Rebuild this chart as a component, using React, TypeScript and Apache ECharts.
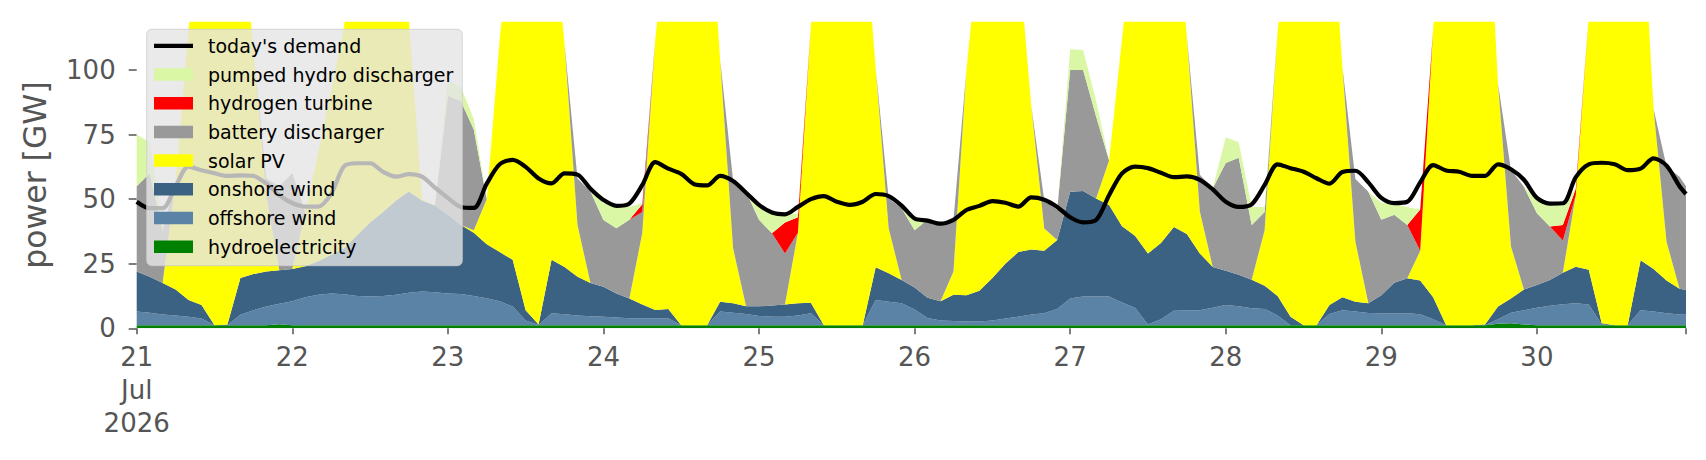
import React, { useEffect, useRef } from "react";
import * as echarts from "echarts";

// hours since 21 Jul 2026 00:00
const hours = [
  0, 2, 4, 6, 8, 10, 12, 14, 16, 18, 20, 22, 24, 26, 28, 30, 32, 34, 36, 38,
  40, 42, 44, 46, 48, 50, 52, 54, 56, 58, 60, 62, 64, 66, 68, 70, 72, 74, 76, 78,
  80, 82, 84, 86, 88, 90, 92, 94, 96, 98, 100, 102, 104, 106, 108, 110, 112, 114, 116, 118,
  120, 122, 124, 126, 128, 130, 132, 134, 136, 138, 140, 142, 144, 146, 148, 150, 152, 154, 156, 158,
  160, 162, 164, 166, 168, 170, 172, 174, 176, 178, 180, 182, 184, 186, 188, 190, 192, 194, 196, 198,
  200, 202, 204, 206, 208, 210, 212, 214, 216, 218, 220, 222, 224, 226, 228, 230, 232, 234, 236, 238,
  239,
];

const hydro = [
  1.2, 1.2, 1.2, 1.2, 1.2, 1.2, 1.2, 1.2, 1.2, 1.2, 1.2, 1.6, 1.2, 1.2, 1.2, 1.2, 1.2, 1.2, 1.2, 1.2,
  1.2, 1.2, 1.2, 1.2, 1.2, 1.2, 1.2, 1.2, 1.2, 1.2, 1.2, 1.2, 1.2, 1.2, 1.2, 1.2, 1.2, 1.2, 1.2, 1.2,
  1.2, 1.2, 1.2, 1.2, 1.2, 1.2, 1.2, 1.2, 1.2, 1.2, 1.2, 1.2, 1.2, 1.2, 1.2, 1.2, 1.2, 1.2, 1.2, 1.2,
  1.2, 1.2, 1.2, 1.2, 1.2, 1.2, 1.2, 1.2, 1.2, 1.2, 1.2, 1.2, 1.2, 1.2, 1.2, 1.2, 1.2, 1.2, 1.2, 1.2,
  1.2, 1.2, 1.2, 1.2, 1.2, 1.2, 1.2, 1.2, 1.2, 1.2, 1.2, 1.2, 1.2, 1.2, 1.2, 1.2, 1.2, 1.2, 1.2, 1.2,
  1.2, 1.2, 1.2, 1.2, 1.2, 1.8, 2.0, 1.5, 1.2, 1.2, 1.2, 1.2, 1.2, 1.2, 1.2, 1.2, 1.2, 1.2, 1.2, 1.2,
  1.2,
];

const offshoreWind = [
  5.3, 4.8, 4.1, 3.8, 3.3, 2.6, 0, 0.1, 4, 5.8, 7.2, 7.9, 9.3, 10.8, 11.8, 12.3, 12, 11.3, 11.1, 11.3,
  11.8, 12.6, 13, 12.8, 12.3, 12.1, 11.3, 10.4, 9.3, 7.2, 1.8, 0.1, 4.6, 4.2, 3.8, 3.5, 3.3, 3, 2.7, 2.7,
  2.7, 2.7, 0, 0, 0, 5.3, 4.8, 4.3, 3.6, 3.3, 3.3, 3.8, 4.6, 0, 0, 0, 0, 9.8, 9.1, 8.5,
  6.1, 2.8, 1.8, 1.6, 1.4, 1.4, 1.8, 2.6, 3.3, 4.1, 4.6, 6.3, 10.3, 11.1, 11.1, 11.1, 8.8, 6.8, 0.3, 2.3,
  5.6, 5.7, 5.8, 6.8, 7.8, 7.3, 6.6, 6.3, 3.8, 0, 0, 0, 4.3, 5.8, 5.3, 4.7, 4.6, 4.6, 4.6, 4.2,
  2.3, 0, 0, 0, 0, 1.7, 4, 5.5, 6.8, 7.5, 8.1, 8.5, 8, 0.3, 0, 0, 5.8, 5.3, 4.6, 4.1,
  4,
];

const onshoreWind = [
  15.5, 14, 12.2, 10, 6.5, 5.2, 0, 0.2, 14.3, 14, 13.6, 13, 12.5, 12, 13, 15, 17.8, 23.5, 28.7, 32.5,
  36.5, 39.2, 35.3, 33.5, 30.5, 26.7, 24.5, 20.9, 19, 18.1, 4, 0.2, 20.7, 18.3, 15, 12.8, 11.6, 9.3, 7.6, 5.3,
  3.2, 3.6, 0, 0, 0, 3.8, 3.7, 3, 3.7, 4.3, 4.7, 4.7, 4.1, 0, 0, 0, 0, 12.6, 11, 9,
  8.5, 7.8, 7.5, 10.2, 10.2, 11.9, 16.5, 21.2, 25, 25.2, 24.2, 26.7, 41.4, 40.9, 38, 35.4, 29.5, 27.8, 27.5, 29.5,
  32.4, 29.6, 22, 15.7, 13.3, 12.2, 11, 9, 7.5, 3.3, 0, 0, 3.5, 5, 3.8, 3.8, 7, 11.8, 13.6, 13.1,
  8.5, 0, 0, 0, 0.3, 4.9, 5.5, 8, 8.8, 10, 12.2, 14.1, 13.5, 0.5, 0, 0, 19.3, 16.5, 12.7, 10,
  9.6,
];

const solarPV = [
  0, 0, 0, 42, 105, 151, 183.8, 178.5, 143.5, 87, 29.6, 0, 0, 21, 42, 63.5, 86, 129, 144, 130,
  100.5, 66, 0.5, 0, 0, 0, 1, 17.5, 82.5, 133.5, 178, 183.5, 138.5, 86.3, 20, 0, 0, 0, 0, 27.8,
  104.9, 152.5, 183.8, 183.8, 178.8, 93.7, 21.3, 0, 0, 0, 0, 27.3, 107.1, 163.8, 183.8, 183.8, 163.8, 76.9, 17.4, 0,
  0, 0, 0, 9, 87.2, 135.5, 150.5, 135, 115.5, 55.5, 8.6, 0, 0, 0, 0, 17.3, 72.5, 124.2, 151, 142,
  130.8, 76.5, 16.2, 0, 0, 0, 0, 21.5, 102.5, 160.5, 183.8, 178.8, 166, 89, 23.2, 0, 0, 0, 0, 11.5,
  104, 163.8, 183.8, 178.8, 188.5, 86.3, 20.2, 0, 0, 0, 0, 27.8, 98.3, 168, 183.8, 178.8, 148.7, 61.9, 15, 0,
  0,
];

const battery = [
  33, 40, 20.5, 0, 0, 0, 0, 0, 0, 0, 6.4, 32.5, 37, 0, 0, 0, 0, 0, 0, 0,
  0, 0, 0, 0, 46, 48, 39, 0, 0, 0, 0, 0, 0, 0, 18, 35.5, 25.8, 25.2, 30.5, 8,
  0, 0, 0, 0, 0, 0, 26.4, 44.4, 33.5, 28, 19.8, 0, 0, 0, 0, 0, 0, 0, 11.6, 27.8,
  22.2, 30.2, 29.9, 20, 0, 0, 0, 0, 0, 0, 11.1, 11.6, 47.1, 46.8, 31.7, 0, 0, 0, 0, 0,
  0, 0, 14.2, 30.5, 41.7, 45.3, 21.2, 7, 0, 0, 0, 0, 0, 0, 24.3, 43.2, 29.2, 26.4, 20.6, 0,
  0, 0, 0, 0, 0, 0, 29.6, 39.8, 27.7, 20.7, 12.5, 0, 0, 0, 0, 0, 0, 0, 29.1, 43.4,
  40.2,
];

const hydrogen = [
  0, 0, 0, 0, 0, 0, 0, 0, 0, 0, 0, 0, 0, 0, 0, 0, 0, 0, 0, 0,
  0, 0, 0, 0, 0, 0, 0, 0, 0, 0, 0, 0, 0, 0, 0, 0, 0, 0, 0, 3,
  0, 0, 0, 0, 0, 0, 0, 0, 0, 0, 12, 6, 0, 0, 0, 0, 0, 0, 0, 0,
  0, 0, 0, 0, 0, 0, 0, 0, 0, 0, 0, 0, 0, 0, 0, 0, 0, 0, 0, 0,
  0, 0, 0, 0, 0, 0, 0, 0, 0, 0, 0, 0, 0, 0, 0, 0, 0, 0, 0, 16,
  0, 0, 0, 0, 0, 0, 0, 0, 0, 0, 6, 2.4, 0, 0, 0, 0, 0, 0, 0, 0,
  0,
];

const pumpedHydro = [
  20, 12, 2, 0, 0, 0, 0, 0, 0, 0, 0, 0, 0, 0, 0, 0, 0, 0, 0, 0,
  0, 0, 0, 0, 6, 5.5, 4, 0, 0, 0, 0, 0, 0, 0, 0, 0, 6.7, 8.3, 5, 0.5,
  0, 0, 0, 0, 0, 0, 0, 0, 5.7, 8, 3, 1.5, 0, 0, 0, 0, 0, 0, 0, 0,
  5, 0, 0, 0, 0, 0, 0, 0, 0, 0, 0, 0, 8, 7.7, 6, 0, 0, 0, 0, 0,
  0, 0, 0, 0, 10, 6, 7, 2, 0, 0, 0, 0, 0, 0, 0, 0, 6.6, 4, 7, 0,
  0, 0, 0, 0, 0, 0, 0, 0, 5.2, 9, 8, 0, 0, 0, 0, 0, 0, 0, 0, 0,
  0,
];

const demand = [
  49, 46.5, 46.5, 55, 62.6, 61.2, 60, 59, 59.2, 59, 56, 51.5, 48.5, 47.1, 47.1, 52, 62.8, 63.9, 63.9, 60.6,
  58.7, 59.7, 58.7, 54.5, 50.5, 47, 46.6, 56, 63.5, 65.2, 62.5, 58, 56.1, 60, 59.5, 54, 49.7, 47.4, 48.3, 55.5,
  64.3, 61.8, 59.8, 55.8, 55.3, 59, 57, 52.5, 47.8, 44.8, 44.1, 47, 50, 51.2, 49, 47.8, 49, 52, 51.2, 47.5,
  42.5, 41.7, 40.5, 42, 45.8, 47.4, 49.2, 48.6, 47.1, 50.7, 49.8, 47, 43, 41, 41.9, 51.5, 60, 62.6, 62, 60.2,
  58.5, 58.8, 57.5, 53.8, 49, 47, 48, 55.5, 63.5, 62, 60.6, 58.1, 56, 60.5, 61, 56.5, 50.5, 48.5, 49, 56.5,
  63.2, 61.1, 60.6, 59, 59, 63.5, 61.6, 57.5, 50.5, 48.3, 48.4, 58.5, 63.5, 64.1, 63.5, 61.2, 61.8, 65.8, 63, 55,
  52,
];

const firstDay = 21;
const dayLabelFirst = "21\nJul\n2026";

const stackDefs = [
  { name: "hydroelectricity", data: hydro, color: "#008000" },
  { name: "offshore wind", data: offshoreWind, color: "#5b83a6" },
  { name: "onshore wind", data: onshoreWind, color: "#3b6283" },
  { name: "solar PV", data: solarPV, color: "#ffff00" },
  { name: "battery discharger", data: battery, color: "#999999" },
  { name: "hydrogen turbine", data: hydrogen, color: "#ff0000" },
  { name: "pumped hydro discharger", data: pumpedHydro, color: "#daf7a6" },
];

const FONT = "DejaVu Sans";
const T0 = Date.UTC(2026, 6, 21, 0, 0, 0);
const HOUR = 3600 * 1000;
const DAY = 24 * HOUR;
const toT = (h: number) => T0 + h * HOUR;

export default function App() {
  const ref = useRef<HTMLDivElement>(null);
  useEffect(() => {
    if (!ref.current) return;
    const chart = echarts.init(ref.current, undefined, { renderer: "svg" });
    const times = hours.map(toT);
    const areaSeries = stackDefs.map((d) => ({
      name: d.name,
      type: "line",
      stack: "supply",
      symbol: "none",
      showSymbol: false,
      data: times.map((t, i) => [t, d.data[i]]),
      lineStyle: { width: 0 },
      itemStyle: { color: d.color },
      areaStyle: { color: d.color, opacity: 1 },
      z: 2,
    }));
    const demandSeries = {
      name: "today's demand",
      type: "line",
      symbol: "none",
      showSymbol: false,
      smooth: 0.3,
      data: times.map((t, i) => [t, demand[i]]),
      lineStyle: { width: 4.2, color: "#000" },
      itemStyle: { color: "#000" },
      z: 3,
    };
    const legendOrder = [
      "today's demand",
      "pumped hydro discharger",
      "hydrogen turbine",
      "battery discharger",
      "solar PV",
      "onshore wind",
      "offshore wind",
      "hydroelectricity",
    ];
    chart.setOption({
      animation: false,
      useUTC: true,
      grid: { left: 136.7, right: 20, top: 21.7, bottom: 131.7, containLabel: false },
      legend: {
        orient: "vertical",
        left: 146.7,
        top: 29.3,
        padding: [7, 9, 9.5, 7.3],
        itemWidth: 39,
        itemHeight: 12.5,
        itemGap: 9.7,
        selectedMode: false,
        backgroundColor: "rgba(229,229,229,0.8)",
        borderColor: "rgba(204,204,204,0.8)",
        borderWidth: 1,
        borderRadius: 5,
        textStyle: {
          fontFamily: FONT,
          fontSize: 19,
          lineHeight: 19,
          color: "#000",
          padding: [0, 0, 0, 10],
        },
        data: legendOrder.map((n) =>
          n === "today's demand"
            ? { name: n, icon: "path://M0,0H39V4.2H0Z", itemStyle: { color: "#000" } }
            : { name: n, icon: "rect" }
        ),
      },
      xAxis: {
        type: "time",
        min: toT(0),
        max: toT(239),
        minInterval: DAY,
        maxInterval: DAY,
        axisLine: { show: false },
        splitLine: { show: false },
        axisTick: {
          show: true,
          length: 6,
          lineStyle: { color: "#555", width: 1.5 },
        },
        axisLabel: {
          fontFamily: FONT,
          fontSize: 26,
          lineHeight: 33,
          color: "#555",
          margin: 12,
          hideOverlap: false,
          showMinLabel: true,
          showMaxLabel: false,
          formatter: (v: number) => {
            const d = Math.round((v - T0) / DAY);
            if (Math.abs(v - T0 - d * DAY) > HOUR) return "";
            return d === 0 ? dayLabelFirst : String(firstDay + d);
          },
        },
      },
      yAxis: {
        type: "value",
        min: 0,
        max: 118.7,
        interval: 25,
        name: "power [GW]",
        nameLocation: "middle",
        nameGap: 86,
        nameTextStyle: { fontFamily: FONT, fontSize: 31.5, color: "#555" },
        axisLine: { show: false },
        splitLine: { show: false },
        axisTick: { show: true, length: 8, lineStyle: { color: "#555", width: 1.5 } },
        axisLabel: {
          fontFamily: FONT,
          fontSize: 26,
          color: "#555",
          margin: 21,
          showMaxLabel: false,
        },
      },
      series: [...areaSeries, demandSeries],
    });
    // closing tick at the end of the time range
    const xEnd = chart.convertToPixel({ xAxisIndex: 0 }, toT(239)) as number;
    const yBase = chart.convertToPixel({ yAxisIndex: 0 }, 0) as number;
    chart.setOption({
      graphic: [
        {
          type: "line",
          shape: { x1: xEnd, y1: yBase, x2: xEnd, y2: yBase + 6 },
          style: { stroke: "#555", lineWidth: 1.5 },
          silent: true,
        },
      ],
    });
    return () => chart.dispose();
  }, []);
  return (
    <div
      ref={ref}
      style={{ position: "absolute", left: 0, top: 0, width: 1706, height: 460, background: "#fff" }}
    />
  );
}
